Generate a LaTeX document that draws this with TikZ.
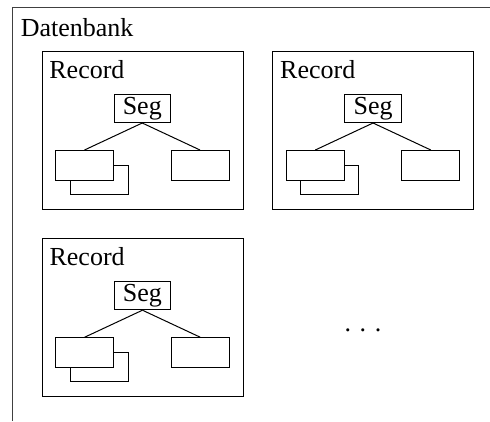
\documentclass[tikz,border=0pt]{standalone}
\usepackage{fontspec}
\setmainfont{Liberation Serif}
\begin{document}
\tikzset{
  lbl/.style={inner sep=0pt, anchor=base west},
  recbox/.style={draw, minimum width=201pt, minimum height=158.5pt, inner sep=0pt, anchor=north west},
  segbox/.style={draw, fill=white, minimum width=56.5pt, minimum height=28.5pt, inner sep=0pt,
                 text height=18.2pt, text depth=5.7pt},
  kidbox/.style={draw, fill=white, minimum width=58pt, minimum height=29.5pt, inner sep=0pt},
  edge/.style={draw},
  record/.pic={
    \node[recbox] (box) at (0,0) {};
    \node[lbl] (title) at (7.4,27.8) {Record};
    \node[segbox] (seg) at (100.75,57.75) {Seg};
    \node[kidbox] (back) at (57.5,129.5) {};
    \node[kidbox] (left) at (43,114.75) {};
    \node[kidbox] (right) at (158.5,114.75) {};
    \draw[edge] (seg.south) -- (left.north);
    \draw[edge] (seg.south) -- (right.north);
  }
}
\begin{tikzpicture}[x=1pt, y=-1pt, line width=1pt,
  every node/.style={font=\fontsize{26}{30}\selectfont}]
  \useasboundingbox (0,0) rectangle (490,421);
  % database frame, open at the bottom and right
  \coordinate (dbbottom) at (12.5,421);
  \coordinate (dbcorner) at (12.5,7.5);
  \coordinate (dbright) at (490,7.5);
  \draw[draw=black!75] (dbbottom) -- (dbcorner) -- (dbright);
  \node[lbl] (db) at (20.3,36) {Datenbank};
  % records
  \pic (r1-) at (41.5,50.5) {record};
  \pic (r2-) at (272.3,50.5) {record};
  \pic (r3-) at (41.7,237.7) {record};
  \node[lbl] (more) at (344,331) {. . .};
\end{tikzpicture}
\end{document}
